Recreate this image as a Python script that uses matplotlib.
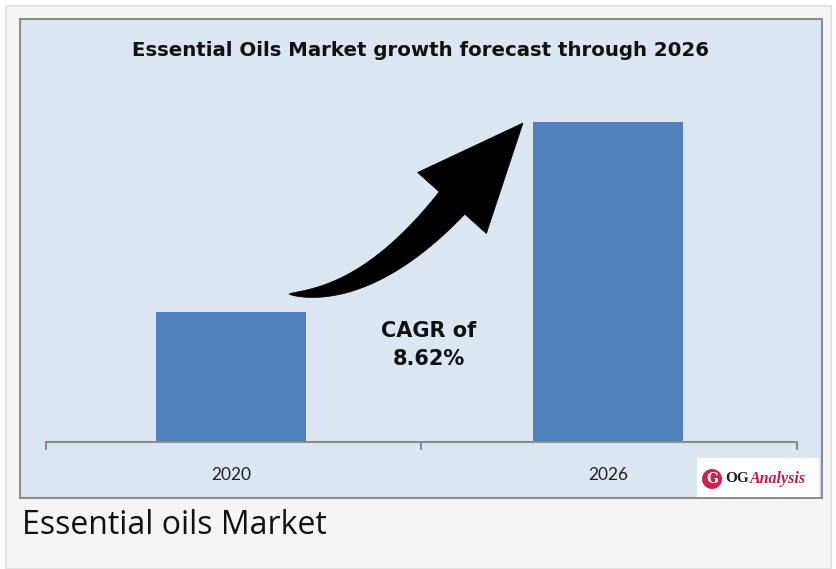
import numpy as np
import matplotlib.pyplot as plt
from matplotlib.patches import Rectangle, Ellipse, Polygon

# data
years = ['2020', '2026']
market_size = [6.5, 16.0]
cagr_text = 'CAGR of\n8.62%'
title = 'Essential Oils Market growth forecast through 2026'
caption = 'Essential oils Market'

W, H = 836, 569
fig = plt.figure(figsize=(W / 100, H / 100), dpi=100, facecolor='white')


def px(x, y):
    # pixel position (from top-left) -> figure fraction
    return x / W, 1 - y / H


# outer panel and chart frame
fig.patches.append(Rectangle(px(6, 569), 825 / W, 563 / H, transform=fig.transFigure,
                             facecolor='#f5f5f5', edgecolor='#e2e2e2', lw=1.5, zorder=0))
fig.patches.append(Rectangle(px(20, 498), 802 / W, 479 / H, transform=fig.transFigure,
                             facecolor='#dce6f2', edgecolor='#8c8c8c', lw=1.5, zorder=0.5))

# bars
ax = fig.add_axes([46 / W, (H - 442) / H, 751 / W, 400 / H])
ax.set_zorder(1)
ax.patch.set_alpha(0)
x = range(len(years))
ax.bar(x, market_size, width=0.398, color='#4f81bd', zorder=2)
ax.set_xlim(-0.4915, 1.5005)
ax.set_ylim(0, 20)
for s in ['top', 'right', 'left']:
    ax.spines[s].set_visible(False)
ax.spines['bottom'].set_color('#8c8c8c')
ax.spines['bottom'].set_linewidth(1.5)
ax.set_yticks([])
ax.set_xticks([-0.4915, 0.503, 1.5005])
ax.set_xticklabels([])
ax.tick_params(axis='x', direction='out', length=6, width=1.5, color='#8c8c8c')
ax.set_xticks(list(x), minor=True)
ax.set_xticklabels(years, minor=True, fontsize=12.5, family='Lato', color='#222222')
ax.tick_params(axis='x', which='minor', length=0, pad=18)

# title
fig.text(*px(421, 50), title, ha='center', va='center', fontsize=14.2,
         fontweight='bold', family='DejaVu Sans', color='#111111', zorder=5)

# growth arrow: tapered curved shaft + triangular head (pixel geometry)
p0 = np.array([289.0, 294.0])
c = np.array([369.0, 298.0])
p2 = np.array([452.0, 203.0])
tip = np.array([523.0, 123.0])
t = np.linspace(0, 1, 60)[:, None]
centre = (1 - t) ** 2 * p0 + 2 * (1 - t) * t * c + t ** 2 * p2
deriv = 2 * (1 - t) * (c - p0) + 2 * t * (p2 - c)
normal = np.column_stack([-deriv[:, 1], deriv[:, 0]])
normal /= np.linalg.norm(normal, axis=1)[:, None]
half = 17 * t ** 0.7
upper = centre + normal * half
lower = centre - normal * half
hd = (tip - p2) / np.linalg.norm(tip - p2)
hn = np.array([-hd[1], hd[0]])
corner_a = p2 + hn * 46
corner_b = p2 - hn * 46
outline = np.vstack([upper, corner_a, tip, corner_b, lower[::-1]])
outline_fig = np.column_stack([outline[:, 0] / W, 1 - outline[:, 1] / H])
fig.patches.append(Polygon(outline_fig, closed=True, transform=fig.transFigure,
                           facecolor='black', edgecolor='black', lw=0.5, zorder=3))

fig.text(*px(429, 345), cagr_text, ha='center', va='center', fontsize=15,
         fontweight='bold', family='DejaVu Sans', color='#111111', linespacing=1.5,
         zorder=5)

# logo
fig.patches.append(Rectangle(px(697, 497), 122 / W, 39 / H, transform=fig.transFigure,
                             facecolor='white', edgecolor='none', zorder=2.5))
fig.patches.append(Ellipse(px(712, 479), 20 / W, 20 / H, transform=fig.transFigure,
                           facecolor='#d02050', edgecolor='none', zorder=2.6))
fig.text(*px(712, 479), 'G', ha='center', va='center', fontsize=10, color='white',
         fontweight='bold', family='DejaVu Serif', zorder=5)
fig.text(*px(725, 479), 'OG', ha='left', va='center', fontsize=11, color='#222222',
         fontweight='bold', family='Liberation Serif', zorder=5)
fig.text(*px(750, 479), 'Analysis', ha='left', va='center', fontsize=11.5, color='#c8174a',
         fontweight='bold', style='italic', family='Liberation Serif', zorder=5)

# caption
fig.text(*px(22, 525), caption, ha='left', va='center', fontsize=23,
         family='Open Sans', color='#111111', zorder=5)

fig.savefig('out.png', dpi=100, facecolor=fig.get_facecolor())
